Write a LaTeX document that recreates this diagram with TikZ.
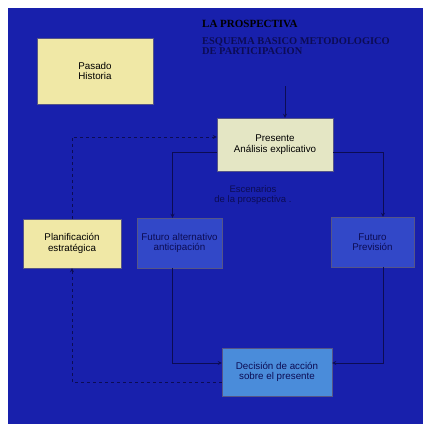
\documentclass[tikz,border=0pt]{standalone}
\usepackage{fontspec}
\setmainfont{Liberation Serif}
\setsansfont{Liberation Sans}
\definecolor{fondo}{RGB}{24,32,172}
\definecolor{crema}{RGB}{240,232,166}
\definecolor{crema2}{RGB}{228,230,196}
\definecolor{azulmedio}{RGB}{50,72,200}
\definecolor{celeste}{RGB}{74,140,218}
\definecolor{marino}{RGB}{12,12,84}
\tikzset{
  caja/.style={draw=marino!70, line width=0.4pt, inner sep=0pt, align=center,
    font=\sffamily\fontsize{9.8}{10.5}\selectfont},
  linea/.style={draw=marino, line width=0.8pt},
  rotulo/.style={anchor=base west, inner sep=0pt, text depth=0pt, text height=7.2pt,
    text=marino, font=\bfseries\fontsize{10.4}{10}\selectfont},
}
\begin{document}
\begin{tikzpicture}[x=1pt, y=-1pt, >=stealth]
            \useasboundingbox (0, 0) rectangle (423, 424);
            % fondo
            \fill[fondo] (8, 8) rectangle (423, 424);
            % titulo
            \node[anchor=base west, inner sep=0pt, font=\bfseries\fontsize{11}{12}\selectfont] (tit) at (202, 27) {LA PROSPECTIVA};
            \node[rotulo] (sub) at (202, 44) {ESQUEMA BASICO METODOLOGICO};
            \node[rotulo] (sub2) at (202, 54.5) {DE PARTICIPACION};
            % cajas
            \node[caja, fill=crema, minimum width=116, minimum height=66] (pas) at (95, 71) {Pasado\\Historia};
            \node[caja, fill=crema2, minimum width=116, minimum height=53] (pre) at (275, 144.5) {Presente\\Análisis explicativo};
            \node[caja, fill=crema, minimum width=98, minimum height=49] (plan) at (72, 243.5) {Planificación\\estratégica};
            \node[caja, fill=azulmedio, text=marino, minimum width=85, minimum height=50] (alt) at (179.5, 243) {Futuro alternativo\\anticipación};
            \node[caja, fill=azulmedio, text=marino, minimum width=83, minimum height=50] (fut) at (372.5, 242) {Futuro\\Previsión};
            \node[caja, fill=celeste, text=marino, minimum width=110, minimum height=48] (dec) at (277, 372) {Decisión de acción\\sobre el presente};
            \node[align=center, text=marino, font=\sffamily\fontsize{9.5}{9.5}\selectfont] (esc) at (253, 195) {Escenarios\\de la prospectiva .};
            % conexiones
            \coordinate (arriba) at (285, 86);
            \draw[linea, ->] (arriba) -- ([xshift=10pt]pre.north);
            \draw[linea, ->] ([yshift=-7.5pt]pre.west) -| ([xshift=-7pt]alt.north);
            \draw[linea, ->] ([xshift=-7pt]alt.south) |- ([yshift=9pt]dec.west);
            \draw[linea, ->] ([yshift=-7.5pt]pre.east) -| ([xshift=10.5pt]fut.north);
            \draw[linea, ->] ([xshift=10.5pt]fut.south) |- ([yshift=9pt]dec.east);
            % linea discontinua
            \draw[linea, dashed, ->] ([yshift=-10pt]dec.west) -| (plan.south);
            \draw[linea, dashed, ->] (plan.north) |- ([yshift=7.5pt]pre.west);
        \end{tikzpicture}
\end{document}
